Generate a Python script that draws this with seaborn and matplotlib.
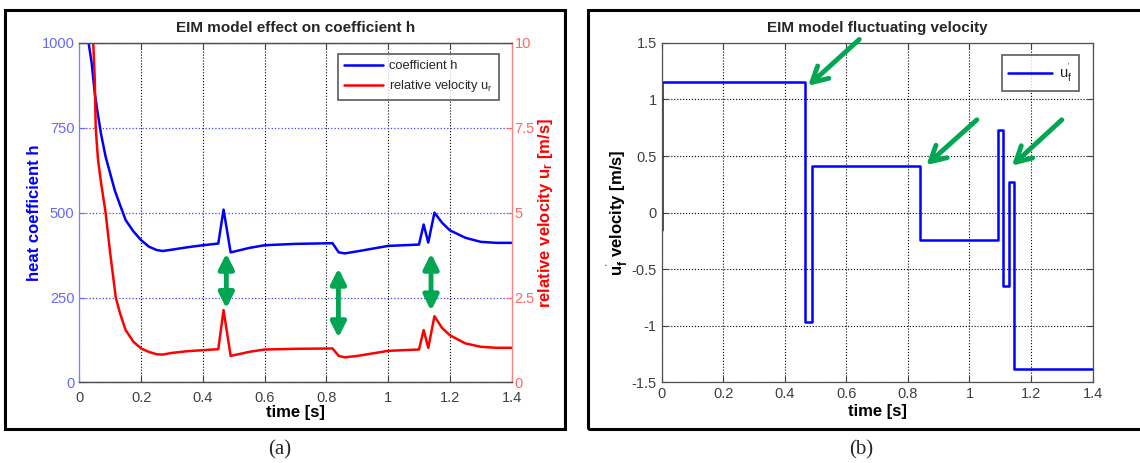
import numpy as np
import pandas as pd
import matplotlib
matplotlib.use("Agg")
import matplotlib.pyplot as plt
import seaborn as sns

# --- panel (a): heat coefficient h and relative velocity u_r -----------------
t_h = [0.03, 0.04, 0.05, 0.06, 0.07, 0.085, 0.10, 0.115, 0.13, 0.15, 0.175, 0.20,
       0.225, 0.25, 0.27, 0.30, 0.35, 0.40, 0.45, 0.467, 0.49, 0.50, 0.55, 0.60,
       0.70, 0.82, 0.84, 0.86, 0.90, 1.00, 1.10, 1.115, 1.13, 1.15, 1.175, 1.20,
       1.25, 1.30, 1.35, 1.40]
h_vals = [1000, 940, 851, 790, 733, 665, 615, 565, 527, 478, 445, 419,
          400, 390, 387, 391, 398, 404, 409, 509, 383, 385, 396, 404,
          408, 410, 383, 380, 386, 402, 406, 465, 412, 500, 470, 448,
          426, 414, 411, 411]

t_u = [0.045, 0.05, 0.053, 0.06, 0.07, 0.085, 0.10, 0.118, 0.132, 0.15, 0.175,
       0.20, 0.225, 0.25, 0.27, 0.30, 0.35, 0.40, 0.45, 0.467, 0.49, 0.50, 0.55,
       0.60, 0.70, 0.82, 0.84, 0.86, 0.90, 1.00, 1.10, 1.115, 1.13, 1.15, 1.175,
       1.20, 1.25, 1.30, 1.35, 1.40]
u_vals = [10.0, 8.9, 7.5, 6.6, 5.9, 5.0, 3.8, 2.5, 2.03, 1.54, 1.20,
          1.00, 0.90, 0.83, 0.82, 0.87, 0.92, 0.95, 0.98, 2.13, 0.78, 0.80, 0.90,
          0.97, 0.99, 1.00, 0.78, 0.74, 0.78, 0.93, 0.97, 1.54, 1.02, 1.95, 1.60,
          1.39, 1.15, 1.05, 1.02, 1.02]

# double-headed markers in panel (a): x, top h, bottom h
arrows_a_x = [0.476, 0.839, 1.139]
arrows_a_top = [380, 336, 380]
arrows_a_bot = [218, 132, 211]

# --- panel (b): fluctuating velocity (step values starting at each time) -----
t_step = [0.0, 0.0, 0.467, 0.488, 0.840, 1.094, 1.108, 1.130, 1.144, 1.40]
uf_vals = [-0.15, 1.15, -0.97, 0.41, -0.24, 0.73, -0.65, 0.27, -1.38, -1.38]

# arrows in panel (b): tail (x, y) -> head (x, y)
arrows_b_tail = [(0.642, 1.53), (1.024, 0.82), (1.300, 0.82)]
arrows_b_head = [(0.476, 1.12), (0.860, 0.42), (1.138, 0.415)]

x_ticks = [0, 0.2, 0.4, 0.6, 0.8, 1.0, 1.2, 1.4]
x_tick_labels = ["0", "0.2", "0.4", "0.6", "0.8", "1", "1.2", "1.4"]
h_ticks = [0, 250, 500, 750, 1000]
u_ticks = [0, 2.5, 5, 7.5, 10]
u_tick_labels = ["0", "2.5", "5", "7.5", "10"]
uf_ticks = [-1.5, -1, -0.5, 0, 0.5, 1, 1.5]
uf_tick_labels = ["-1.5", "-1", "-0.5", "0", "0.5", "1", "1.5"]

sns.set_style("white")
plt.rcParams["font.family"] = ["Liberation Sans", "DejaVu Sans"]
plt.rcParams["mathtext.fontset"] = "custom"
plt.rcParams["mathtext.rm"] = "Liberation Sans"
plt.rcParams["mathtext.it"] = "Liberation Sans"
plt.rcParams["mathtext.bf"] = "Liberation Sans:bold"

BLUE = "#0000ff"
RED = "#ff0000"
GREEN = "#00a651"
TICK_GREY = "#404040"

fig = plt.figure(figsize=(11.4, 4.63), dpi=100)

# panel frames and captions
for x0, w in [(0.0048, 0.491), (0.5154, 0.49)]:
    fig.add_artist(plt.Rectangle((x0, 0.0734), w, 0.905, transform=fig.transFigure,
                                 fill=False, edgecolor="black", linewidth=2.2, clip_on=False))
fig.text(0.2456, 0.028, "(a)", ha="center", va="center", fontsize=15, family="Liberation Serif")
fig.text(0.755, 0.028, "(b)", ha="center", va="center", fontsize=15, family="Liberation Serif")


def style_axis(ax):
    ax.tick_params(direction="in", length=4, width=0.8, labelsize=10.5,
                   colors=TICK_GREY, top=True, bottom=True)
    for side in ["top", "bottom", "left", "right"]:
        ax.spines[side].set_color("#505050")
        ax.spines[side].set_linewidth(0.9)


def matlab_legend(ax, handles, labels, fontsize, handlelength):
    leg = ax.legend(handles, labels, loc="upper right", fontsize=fontsize, frameon=True,
                    fancybox=False, borderpad=0.45, labelspacing=0.45, handletextpad=0.5,
                    handlelength=handlelength, bbox_to_anchor=(0.985, 0.985))
    leg.get_frame().set_edgecolor("#303030")
    leg.get_frame().set_linewidth(1.2)
    return leg


# ---------------------------- panel (a) --------------------------------------
ax1 = fig.add_axes([0.0696, 0.174, 0.3792, 0.7335])
ax2 = ax1.twinx()
df_h = pd.DataFrame({"t": t_h, "h": h_vals})
df_u = pd.DataFrame({"t": t_u, "u": u_vals})
sns.lineplot(data=df_h, x="t", y="h", ax=ax1, color=BLUE, linewidth=1.8,
             estimator=None, sort=False, label="coefficient h", legend=False)
sns.lineplot(data=df_u, x="t", y="u", ax=ax2, color=RED, linewidth=1.8,
             estimator=None, sort=False, label="relative velocity u$_r$", legend=False)

ax1.set_xlim(0, 1.4)
ax1.set_ylim(0, 1000)
ax2.set_ylim(0, 10)
ax1.set_xticks(x_ticks, x_tick_labels)
ax1.set_yticks(h_ticks)
ax2.set_yticks(u_ticks, u_tick_labels)
style_axis(ax1)
style_axis(ax2)
ax1.tick_params(axis="x", pad=6)
ax1.tick_params(axis="y", colors="#6666ff", right=False)
ax1.spines["left"].set_color("#8080ff")
ax2.tick_params(axis="y", colors="#ff6666", left=False, pad=2)
ax2.spines["right"].set_color("#ff8080")
ax2.spines["left"].set_visible(False)
ax1.spines["right"].set_visible(False)
ax1.grid(True, axis="x", linestyle=":", color="black", linewidth=0.8)
ax1.grid(True, axis="y", linestyle=":", color="#4040ff", linewidth=0.9)
ax1.set_xlabel("time [s]", fontsize=12, fontweight="bold", color="black", labelpad=0)
ax1.set_ylabel("heat coefficient h", fontsize=12, fontweight="bold", color=BLUE, labelpad=0)
ax2.set_ylabel("relative velocity u$_\\mathbf{r}$ [m/s]", fontsize=12, fontweight="bold",
               color=RED, labelpad=1)
ax1.set_title("EIM model effect on coefficient h", fontsize=11, fontweight="bold", pad=8)

for xa, ya, yb in zip(arrows_a_x, arrows_a_top, arrows_a_bot):
    ax1.annotate("", xy=(xa, ya), xytext=(xa, yb),
                 arrowprops=dict(arrowstyle="<|-|>,head_length=0.9,head_width=0.45",
                                 color=GREEN, linewidth=3.5, shrinkA=0, shrinkB=0))

handles = ax1.get_lines()[:1] + ax2.get_lines()[:1]
matlab_legend(ax1, handles, [h.get_label() for h in handles], 9.3, 3.0)

# ---------------------------- panel (b) --------------------------------------
ax3 = fig.add_axes([0.5804, 0.174, 0.378, 0.7335])
df_f = pd.DataFrame({"t": t_step, "uf": uf_vals})
sns.lineplot(data=df_f, x="t", y="uf", ax=ax3, color=BLUE, linewidth=1.8,
             estimator=None, sort=False, drawstyle="steps-post", label="u$_f^{'}$", legend=False)
ax3.set_xlim(0, 1.4)
ax3.set_ylim(-1.5, 1.5)
ax3.set_xticks(x_ticks, x_tick_labels)
ax3.set_yticks(uf_ticks, uf_tick_labels)
style_axis(ax3)
ax3.tick_params(right=True, left=True)
ax3.grid(True, linestyle=":", color="black", linewidth=0.8)
ax3.set_xlabel("time [s]", fontsize=12, fontweight="bold", color="black", labelpad=2)
ax3.set_ylabel("u$_\\mathbf{f}^{'}$ velocity [m/s]", fontsize=12, fontweight="bold",
               color="black", labelpad=1)
ax3.set_title("EIM model fluctuating velocity", fontsize=11, fontweight="bold", pad=8)

for tail, head in zip(arrows_b_tail, arrows_b_head):
    ax3.annotate("", xy=head, xytext=tail, annotation_clip=False,
                 arrowprops=dict(arrowstyle="->,head_length=1.1,head_width=0.6",
                                 color=GREEN, linewidth=3.5, shrinkA=0, shrinkB=0))

lines3 = ax3.get_lines()[:1]
matlab_legend(ax3, lines3, [l.get_label() for l in lines3], 10.5, 3.0)

fig.savefig("out.png", dpi=100)
